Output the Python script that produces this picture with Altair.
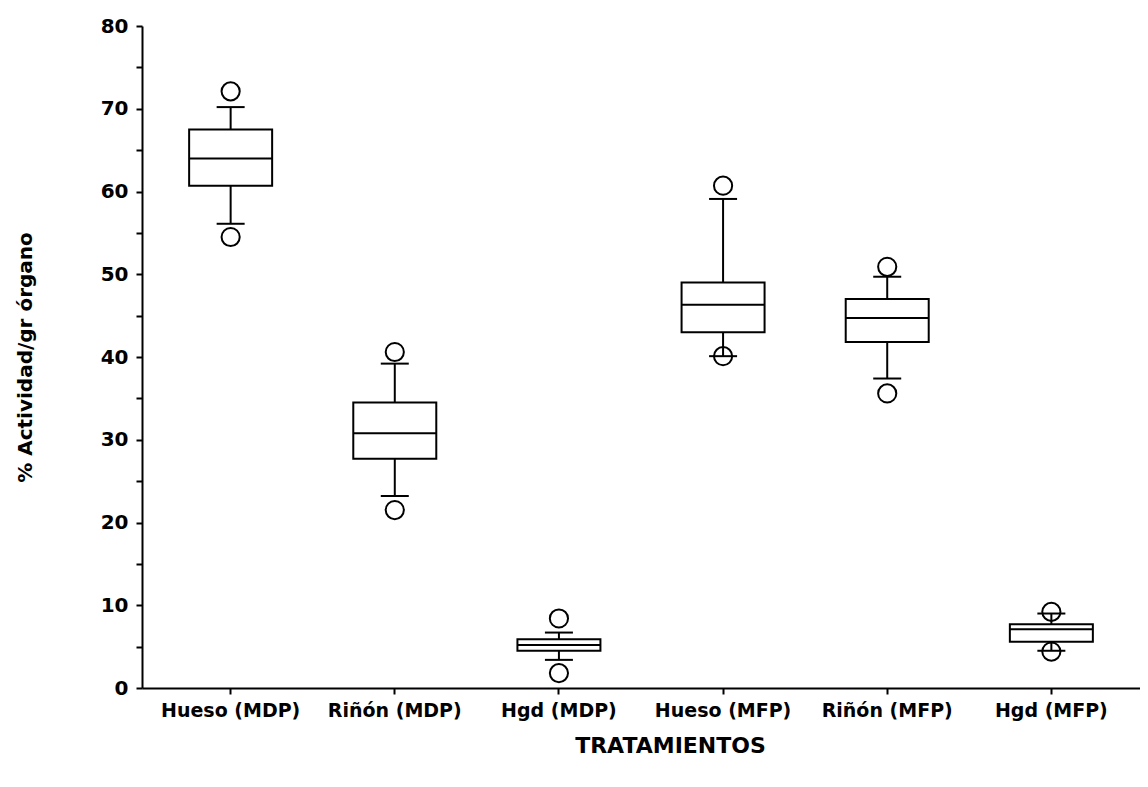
import altair as alt
import pandas as pd

categories = ["Hueso (MDP)", "Riñón (MDP)", "Hgd (MDP)", "Hueso (MFP)", "Riñón (MFP)", "Hgd (MFP)"]
q1 = [60.7, 27.7, 4.5, 43.0, 41.8, 5.6]
median = [64.0, 30.8, 5.2, 46.3, 44.7, 7.1]
q3 = [67.5, 34.5, 5.9, 49.0, 47.0, 7.7]
whisker_low = [56.1, 23.2, 3.4, 40.1, 37.4, 4.5]
whisker_high = [70.2, 39.2, 6.7, 59.1, 49.7, 9.0]
outlier_low = [54.5, 21.5, 1.8, 40.1, 35.6, 4.4]
outlier_high = [72.1, 40.6, 8.4, 60.7, 50.9, 9.2]
y_ticks = [0, 5, 10, 15, 20, 25, 30, 35, 40, 45, 50, 55, 60, 65, 70, 75, 80]

box = pd.DataFrame({
    "cat": categories, "q1": q1, "med": median, "q3": q3,
    "wlo": whisker_low, "whi": whisker_high,
})
outl = pd.DataFrame({
    "cat": categories + categories,
    "v": outlier_low + outlier_high,
})

FONT = "DejaVu Sans"

x_enc = alt.X(
    "cat:N",
    sort=categories,
    scale=alt.Scale(paddingInner=0, paddingOuter=0.04),
    axis=alt.Axis(
        title="TRATAMIENTOS", labelAngle=0, labelFontSize=19, labelFont=FONT,
        labelFontWeight="bold", labelColor="black", labelPadding=7,
        tickSize=6, tickWidth=2, tickColor="black", grid=False,
        domainColor="black", domainWidth=2,
        titleFontSize=22, titleFont=FONT, titleFontWeight="bold", titleColor="black",
        titleX=528, titleY=57, titleBaseline="middle", titleAnchor="start",
        titleAlign="center",
    ),
)

y_scale = alt.Scale(domain=[0, 80], nice=False, zero=True)
y_axis = alt.Axis(
    title="% Actividad/gr órgano", values=y_ticks,
    labelExpr="datum.value % 10 == 0 ? datum.label : ''",
    labelFontSize=20, labelFont=FONT, labelFontWeight="bold", labelColor="black",
    labelPadding=8, tickSize=6, tickWidth=2, tickColor="black",
    domainColor="black", domainWidth=2, grid=False,
    titleFontSize=20, titleFont=FONT, titleFontWeight="bold", titleColor="black",
    titleX=-117, titleBaseline="middle",
)

base = alt.Chart(box)

whisk = base.mark_rule(color="black", strokeWidth=2, opacity=1).encode(
    x=x_enc, y=alt.Y("wlo:Q", scale=y_scale, axis=y_axis), y2="whi:Q"
)
boxes = base.mark_bar(size=83, fill="white", stroke="black", strokeWidth=2, opacity=1).encode(
    x=alt.X("cat:N", sort=categories), y="q1:Q", y2="q3:Q"
)
meds = base.mark_tick(size=83, thickness=2, color="black", opacity=1).encode(
    x=alt.X("cat:N", sort=categories), y="med:Q"
)
cap_lo = base.mark_tick(size=28, thickness=2, color="black", opacity=1).encode(
    x=alt.X("cat:N", sort=categories), y="wlo:Q"
)
cap_hi = base.mark_tick(size=28, thickness=2, color="black", opacity=1).encode(
    x=alt.X("cat:N", sort=categories), y="whi:Q"
)
pts = alt.Chart(outl).mark_point(
    shape="circle", size=330, filled=False, color="black", strokeWidth=2, opacity=1
).encode(
    x=alt.X("cat:N", sort=categories), y="v:Q"
)

chart = alt.layer(whisk, boxes, meds, cap_lo, cap_hi, pts).properties(
    width=998, height=662,
    background="white",
    autosize=alt.AutoSizeParams(type="none"),
    padding={"left": 134, "top": 18, "right": 0, "bottom": 80},
).configure_view(stroke=None, strokeWidth=0).configure_axis(grid=False)

chart.save("out.html", embed_options={"renderer": "svg", "actions": False})
